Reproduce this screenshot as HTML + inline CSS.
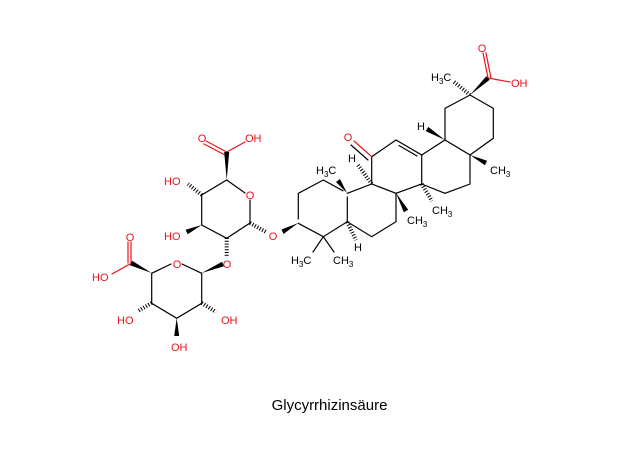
<!DOCTYPE html>
<html><head><meta charset="utf-8"><style>
html,body{margin:0;padding:0;background:#fff;}
svg{display:block}
text{font-family:"Liberation Sans",sans-serif;font-size:11px}
.r{fill:#e8141c}.k{fill:#000}
.sub{font-size:8px}
</style></head><body>
<svg width="643" height="452" viewBox="0 0 643 452" xmlns="http://www.w3.org/2000/svg">
<g stroke="#000" stroke-width="1.2" fill="none" stroke-linecap="round">
<polyline points="298.3,219 298.3,193.3 323.3,180 343,190.8"/>
<polyline points="347.3,197 347.3,221.7 323.3,236.7 298.3,223.3"/>
<polyline points="347.3,193.3 371.7,184 396,193.3 396,221.7 371.7,236.7 347.3,221.7"/>
<polyline points="371.7,184 371.7,156.7 396,140 421.7,155 421.7,184 396,193.3"/>
<line x1="399" y1="145.5" x2="417" y2="156"/>
<polyline points="421.7,155 445,140 470,155 470,184 445,193.3 421.7,184"/>
<polyline points="445,140 445,108.3 470,95 493.3,108.3 493.3,138.3 470,155"/>
<line x1="323.3" y1="236.7" x2="313" y2="252"/>
<line x1="323.3" y1="236.7" x2="334" y2="252"/>
<line x1="371.7" y1="156.7" x2="354" y2="141" stroke="#e8141c"/>
<line x1="368" y1="160" x2="351" y2="145" stroke="#000"/>
<line x1="488" y1="78" x2="483" y2="53" stroke="#e8141c"/>
<line x1="491" y1="78" x2="486" y2="53" stroke="#e8141c"/>
<line x1="488" y1="78" x2="510" y2="82" stroke="#e8141c"/>
<polyline points="250,223 250,200" stroke="#000"/>
<polyline points="245,193 226.7,180 201.7,195 201.7,225 226.7,238.3 250,223"/>
<line x1="226.7" y1="152" x2="206" y2="141" stroke="#e8141c"/>
<line x1="225" y1="155" x2="204" y2="144" stroke="#e8141c"/>
<line x1="226.7" y1="152" x2="245" y2="142" stroke="#e8141c"/>
<polyline points="201.7,273.3 182,264"/>
<polyline points="171,264 151.7,273.3 151.7,303.3 176.7,318.3 201.7,303.3 201.7,273.3"/>
<line x1="131" y1="263" x2="131" y2="242" stroke="#e8141c"/>
<line x1="128" y1="263" x2="128" y2="242" stroke="#e8141c"/>
<line x1="130" y1="264" x2="112" y2="274" stroke="#e8141c"/>
</g>
<g fill="#000">
<polygon points="298.3,223 281.5,229.5 283.5,234"/>
<polygon points="347,193 340,179 336,182"/>
<polygon points="396,193 403.8,212.2 408.2,209.8"/>
<polygon points="445,140 428.3,126.9 425.7,131.1"/>
<polygon points="470,155 484.9,165.2 487.1,160.8"/>
<polygon points="470,95 489.7,79.8 486.3,76.2"/>
<polygon points="226.7,180 224.2,152 229.2,152"/>
<polygon points="201.7,225 185.6,229.7 187.7,234.3"/>
<polygon points="201.7,273 224,266.3 222,261.7"/>
<polygon points="151.7,273 132.1,260.8 129.9,265.3"/>
<polygon points="176.7,318 174.2,336 179.2,336"/>
</g>
<g stroke="#000" stroke-width="4" stroke-dasharray="1 1.8" fill="none">
<line x1="371.7" y1="184" x2="358" y2="165"/>
<line x1="347.3" y1="222" x2="356" y2="240"/>
<line x1="421.7" y1="184" x2="432" y2="201"/>
<line x1="470" y1="95" x2="453" y2="81"/>
<line x1="250" y1="223" x2="266" y2="232"/>
<line x1="201.7" y1="195" x2="188" y2="184"/>
<line x1="226.7" y1="238" x2="226.7" y2="256"/>
<line x1="151.7" y1="303" x2="138" y2="311"/>
<line x1="201.7" y1="303" x2="216" y2="312"/>
</g>
<g>
<text x="273" y="240" class="r" text-anchor="middle">O</text>
<text x="348" y="141" class="r" text-anchor="middle">O</text>
<text x="352" y="162" class="k" text-anchor="middle">H</text>
<text x="358" y="251" class="k" text-anchor="middle">H</text>
<text x="421" y="130" class="k" text-anchor="middle">H</text>
<text x="316" y="174" class="k">H<tspan class="sub" dy="3">3</tspan><tspan dy="-3">C</tspan></text>
<text x="291" y="264" class="k">H<tspan class="sub" dy="3">3</tspan><tspan dy="-3">C</tspan></text>
<text x="333" y="264" class="k">CH<tspan class="sub" dy="3">3</tspan></text>
<text x="407" y="224" class="k">CH<tspan class="sub" dy="3">3</tspan></text>
<text x="432" y="214" class="k">CH<tspan class="sub" dy="3">3</tspan></text>
<text x="490" y="174" class="k">CH<tspan class="sub" dy="3">3</tspan></text>
<text x="431" y="81" class="k">H<tspan class="sub" dy="3">3</tspan><tspan dy="-3">C</tspan></text>
<text x="482" y="52" class="r" text-anchor="middle">O</text>
<text x="511" y="87" class="r">OH</text>
<text x="250" y="199" class="r" text-anchor="middle">O</text>
<text x="202" y="142" class="r" text-anchor="middle">O</text>
<text x="245" y="142" class="r">OH</text>
<text x="164" y="185" class="r">HO</text>
<text x="164" y="240" class="r">HO</text>
<text x="227" y="268" class="r" text-anchor="middle">O</text>
<text x="177" y="268" class="r" text-anchor="middle">O</text>
<text x="130" y="241" class="r" text-anchor="middle">O</text>
<text x="92" y="281" class="r">HO</text>
<text x="117" y="324" class="r">HO</text>
<text x="221" y="324" class="r">OH</text>
<text x="171" y="351" class="r">OH</text>
</g>
<text x="329.5" y="410" text-anchor="middle" style="font-size:15px;fill:#000">Glycyrrhizinsäure</text>
</svg>
</body></html>
